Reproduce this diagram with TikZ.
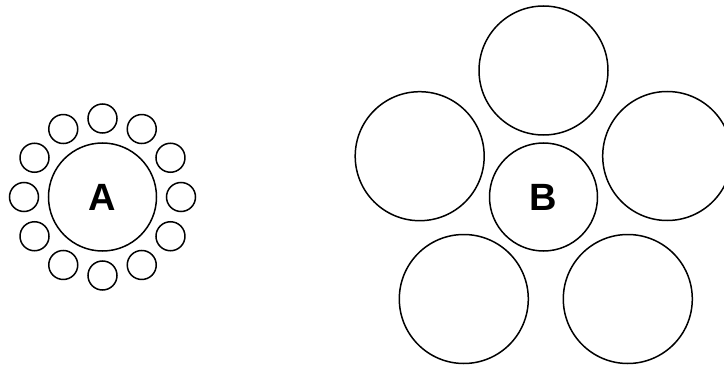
\documentclass[tikz,border=0pt]{standalone}
\usepackage{fontspec}
\setmainfont{Liberation Sans}
\usepackage{tikz}
\usetikzlibrary{positioning}

\begin{document}
\begin{tikzpicture}[
  x=1pt, y=1pt,
  font=\fontsize{38}{38}\selectfont\bfseries,
  target/.style={draw, circle, inner sep=0pt, minimum size=108pt},
  ringdot/.style={draw, circle, inner sep=0pt, minimum size=29pt},
  ringbig/.style={draw, circle, inner sep=0pt, minimum size=129pt},
  every path/.style={line width=1.5pt}]
\useasboundingbox (0,0) rectangle (724,365);
% left figure
\node[target] (a) at (102.5,168) {A};
\node[ringdot] (a1) at ([shift={(90:78.5pt)}]a.center) {};
\node[ringdot] (a2) at ([shift={(60:78.5pt)}]a.center) {};
\node[ringdot] (a3) at ([shift={(30:78.5pt)}]a.center) {};
\node[ringdot] (a4) at ([shift={(0:78.5pt)}]a.center) {};
\node[ringdot] (a5) at ([shift={(-30:78.5pt)}]a.center) {};
\node[ringdot] (a6) at ([shift={(-60:78.5pt)}]a.center) {};
\node[ringdot] (a7) at ([shift={(-90:78.5pt)}]a.center) {};
\node[ringdot] (a8) at ([shift={(-120:78.5pt)}]a.center) {};
\node[ringdot] (a9) at ([shift={(-150:78.5pt)}]a.center) {};
\node[ringdot] (a10) at ([shift={(180:78.5pt)}]a.center) {};
\node[ringdot] (a11) at ([shift={(150:78.5pt)}]a.center) {};
\node[ringdot] (a12) at ([shift={(120:78.5pt)}]a.center) {};
% right figure
\node[target] (b) at (543.5,168) {B};
\node[ringbig] (b1) at (543.5,294.5) {};
\node[ringbig] (b2) at (667.2,209) {};
\node[ringbig] (b3) at (627.8,66) {};
\node[ringbig] (b4) at (463.8,66) {};
\node[ringbig] (b5) at (419.7,208.8) {};
\end{tikzpicture}
\end{document}
